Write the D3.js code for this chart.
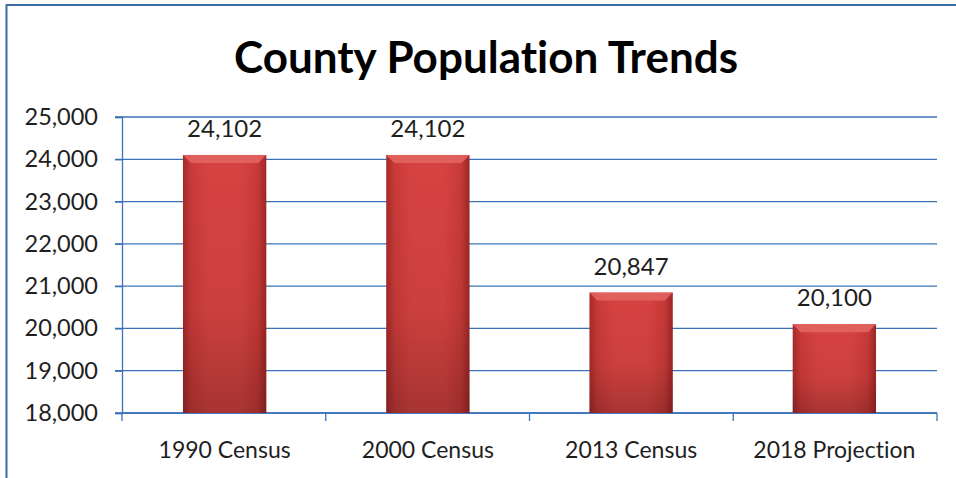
<!DOCTYPE html>
<html><head><meta charset="utf-8">
<script src="https://cdn.jsdelivr.net/npm/d3@7"></script>
<style>body{margin:0;background:#fff;}svg{display:block;}text{font-variant-ligatures:none;font-feature-settings:"liga" 0;}</style>
</head><body>
<svg id="c" width="956" height="478"></svg>
<script>
const categories = ["1990 Census", "2000 Census", "2013 Census", "2018 Projection"];
const values = [24102, 24102, 20847, 20100];
const yTicks = [18000, 19000, 20000, 21000, 22000, 23000, 24000, 25000];
const title = "County Population Trends";

const svg = d3.select("#c");
const W = 956, H = 478;
const m = {left: 122, right: 19, top: 117, bottom: 65};
const font = "Lato, 'Open Sans', sans-serif";

// outer border
svg.append("rect").attr("x", 6.5).attr("y", 5).attr("width", W).attr("height", H)
  .attr("fill", "#fff").attr("stroke", "#3a6ea5").attr("stroke-width", 2);

const defs = svg.append("defs");
const g1 = defs.append("linearGradient").attr("id", "barH").attr("x1", 0).attr("x2", 1).attr("y1", 0).attr("y2", 0);
[[0, "#a62a2a"], [0.1, "#c83a38"], [0.3, "#d64341"], [0.7, "#d64341"], [0.9, "#c63937"], [1, "#9e2626"]]
  .forEach(([o, c]) => g1.append("stop").attr("offset", o).attr("stop-color", c));
const g2 = defs.append("linearGradient").attr("id", "barV").attr("x1", 0).attr("x2", 0).attr("y1", 0).attr("y2", 1);
[[0, "#000", 0], [0.6, "#000", 0.05], [1, "#000", 0.22]]
  .forEach(([o, c, op]) => g2.append("stop").attr("offset", o).attr("stop-color", c).attr("stop-opacity", op));

const x = d3.scaleBand().domain(categories).range([m.left, W - m.right]).paddingInner(0.59).paddingOuter(0.3);
const y = d3.scaleLinear().domain([18000, 25000]).range([H - m.bottom, m.top]);

// gridlines
svg.append("g").selectAll("line").data(yTicks).join("line")
  .attr("x1", m.left - 7).attr("x2", W - m.right)
  .attr("y1", d => y(d)).attr("y2", d => y(d))
  .attr("stroke", "#3b72b8").attr("stroke-width", 1.3);

// y axis
const yAxis = svg.append("g").attr("transform", `translate(${m.left},0)`)
  .call(d3.axisLeft(y).tickValues(yTicks).tickSize(7).tickPadding(17).tickFormat(d3.format(",")));
yAxis.select(".domain").attr("stroke", "#3b72b8").attr("stroke-width", 1.3);
yAxis.selectAll(".tick line").attr("stroke", "#3b72b8").attr("stroke-width", 1.3);
yAxis.selectAll("text").attr("font-family", font).attr("font-size", 23.5).attr("fill", "#1e1e1e");

// x axis
const xEdges = d3.range(categories.length + 1).map(i => m.left + i * (W - m.right - m.left) / categories.length);
svg.append("line").attr("x1", m.left).attr("x2", W - m.right).attr("y1", y(18000)).attr("y2", y(18000))
  .attr("stroke", "#3b72b8").attr("stroke-width", 1.3);
svg.append("g").selectAll("line").data(xEdges).join("line")
  .attr("x1", d => d).attr("x2", d => d).attr("y1", y(18000)).attr("y2", y(18000) + 8)
  .attr("stroke", "#3b72b8").attr("stroke-width", 1.3);
svg.append("g").selectAll("text").data(categories).join("text")
  .attr("x", d => x(d) + x.bandwidth() / 2).attr("y", H - m.bottom + 45)
  .attr("text-anchor", "middle").attr("font-family", font).attr("font-size", 23).attr("fill", "#1e1e1e")
  .text(d => d);

// bars
const bars = svg.append("g").selectAll("g").data(values).join("g");
bars.append("rect")
  .attr("x", (d, i) => x(categories[i])).attr("width", x.bandwidth())
  .attr("y", d => y(d)).attr("height", d => y(18000) - y(d))
  .attr("fill", "url(#barH)");
bars.append("rect")
  .attr("x", (d, i) => x(categories[i])).attr("width", x.bandwidth())
  .attr("y", d => y(d)).attr("height", d => y(18000) - y(d))
  .attr("fill", "url(#barV)");
// top bevel
bars.append("path")
  .attr("d", (d, i) => {
    const x0 = x(categories[i]), x1 = x0 + x.bandwidth(), t = y(d), b = 8;
    return `M${x0},${t}L${x1},${t}L${x1 - b},${t + b}L${x0 + b},${t + b}Z`;
  })
  .attr("fill", "#e46562").attr("opacity", 0.85);

// value labels
svg.append("g").selectAll("text").data(values).join("text")
  .attr("x", (d, i) => x(categories[i]) + x.bandwidth() / 2).attr("y", d => y(d) - 18)
  .attr("text-anchor", "middle").attr("font-family", font).attr("font-size", 24).attr("fill", "#1e1e1e")
  .text(d => d3.format(",")(d));

// title
svg.append("text").attr("x", 486).attr("y", 73).attr("text-anchor", "middle")
  .attr("font-family", font).attr("font-weight", "bold").attr("font-size", 44).attr("fill", "#000")
  .text(title);
</script>
</body></html>
